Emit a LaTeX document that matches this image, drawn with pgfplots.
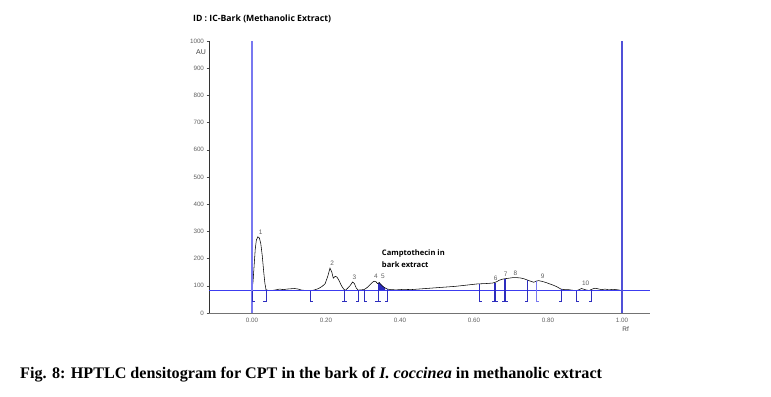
\documentclass[border=0pt]{standalone}
\usepackage{pgfplots}
\pgfplotsset{compat=1.18}
\usepackage{fontspec}
\setmainfont{Liberation Sans}
\newfontfamily\serifb{Liberation Serif}
\newfontfamily\opensans{Open Sans}
\definecolor{guide}{RGB}{60,60,240}
\definecolor{guideleft}{RGB}{120,120,240}
\definecolor{guidedark}{RGB}{80,80,215}
\definecolor{mk}{RGB}{45,45,190}
\definecolor{tk}{RGB}{95,95,95}
\begin{document}
\begin{tikzpicture}
\path[use as bounding box] (0bp,0bp) rectangle (771bp,397bp);
\node[anchor=west,inner sep=0pt,font=\opensans\bfseries\fontsize{8.7}{10}\selectfont] at (193bp,378bp) {ID : IC-Bark (Methanolic Extract)};
\node[anchor=west,inner sep=0pt,font=\serifb\bfseries\fontsize{16.2}{18}\selectfont] at (20bp,22bp) {Fig. 8: HPTLC densitogram for CPT in the bark of \textit{I. coccinea} in methanolic extract};
\begin{axis}[
  at={(209bp,84bp)}, anchor=south west,
  scale only axis, width=441bp, height=272bp,
  xmin=-0.116, xmax=1.076, ymin=0, ymax=1000,
  axis lines=left, axis line style={-},
  x axis line style={black!55, line width=0.7pt},
  y axis line style={black!80, line width=0.7pt},
  clip=false,
  xtick={0,0.2,0.4,0.6,0.8,1.0},
  xticklabels={0.00,0.20,0.40,0.60,0.80,1.00},
  ytick={0,100,...,1000},
  xtick style={draw=none},
  ytick style={black!70, line width=0.5pt},
  tick align=outside, major tick length=2.5bp,
  tick label style={font=\fontsize{6.3}{7}\selectfont, text=tk},
  /pgf/number format/assume math mode=true,
  /pgf/number format/1000 sep={},
  yticklabel style={xshift=1bp},
  xticklabel style={yshift=1bp},
]
% CPT peak fill
\addplot[fill=mk, draw=none] coordinates {(0.341,81) (0.341,108) (0.344,112) (0.348,106) (0.354,98) (0.360,92) (0.360,81)} -- cycle;
% densitogram
\addplot[black, line width=0.55pt] coordinates {
(0.000,82) (0.003,115) (0.006,175) (0.009,235) (0.012,268) (0.016,280) (0.020,276) (0.024,255) (0.028,210) (0.032,150) (0.035,110) (0.038,86)
(0.045,82) (0.055,83) (0.065,85) (0.075,88) (0.085,86) (0.095,88) (0.105,89) (0.115,90) (0.125,88) (0.135,84) (0.145,83) (0.155,82) (0.160,82)
(0.170,85) (0.180,90) (0.190,98) (0.198,108) (0.205,135) (0.211,165) (0.216,150) (0.220,128) (0.225,135) (0.230,132) (0.236,118) (0.242,100) (0.248,88) (0.252,83)
(0.258,90) (0.265,100) (0.272,114) (0.277,108) (0.282,92) (0.287,84) (0.295,85) (0.303,86)
(0.310,92) (0.318,102) (0.325,112) (0.330,117) (0.335,115) (0.340,108) (0.344,112) (0.348,106) (0.354,98) (0.360,92) (0.366,88)
(0.375,86) (0.390,85) (0.410,87) (0.430,86) (0.450,88) (0.470,90) (0.490,92) (0.510,94) (0.530,96) (0.550,98) (0.570,101) (0.590,104) (0.610,107)
(0.630,108) (0.650,110) (0.660,114) (0.668,120) (0.676,124) (0.684,126) (0.695,128) (0.705,130) (0.715,130) (0.725,129) (0.735,126) (0.745,121)
(0.755,116) (0.762,113) (0.768,117) (0.775,119) (0.785,116) (0.795,112) (0.805,107) (0.815,102) (0.825,96) (0.835,88) (0.845,86) (0.855,86)
(0.865,84) (0.877,82) (0.885,86) (0.891,90) (0.898,87) (0.905,84) (0.912,83) (0.920,88) (0.927,91) (0.935,89) (0.945,86) (0.955,88)
(0.965,85) (0.975,87) (0.985,86) (0.995,84) (1.000,82)};
% blue guide lines
\addplot[draw=guide, line width=1bp] coordinates {(-0.116,81) (1.076,81)};
\addplot[draw=guideleft, line width=1.2bp] coordinates {(0,0) (0,1000)};
\addplot[draw=guidedark, line width=1.4bp] coordinates {(1,0) (1,1000)};
% peak boundary markers
\addplot[mk, line width=0.6pt] coordinates {(0.001,82) (0.001,42) (0.008,42)};
\addplot[mk, line width=0.6pt] coordinates {(0.038,86) (0.038,42) (0.031,42)};
\addplot[mk, line width=0.6pt] coordinates {(0.159,82) (0.159,42) (0.166,42)};
\addplot[mk, line width=1.1pt] coordinates {(0.251,83) (0.251,42)};
\addplot[mk, line width=0.6pt] coordinates {(0.244,42) (0.258,42)};
\addplot[mk, line width=0.6pt] coordinates {(0.287,84) (0.287,42) (0.280,42)};
\addplot[mk, line width=0.6pt] coordinates {(0.303,86) (0.303,42) (0.310,42)};
\addplot[mk, line width=1.1pt] coordinates {(0.341,108) (0.341,42)};
\addplot[mk, line width=0.6pt] coordinates {(0.334,42) (0.348,42)};
\addplot[mk, line width=0.6pt] coordinates {(0.366,88) (0.366,42) (0.359,42)};
\addplot[mk, line width=0.6pt] coordinates {(0.614,107) (0.614,42) (0.621,42)};
\addplot[mk, line width=1.1pt] coordinates {(0.657,112) (0.657,42)};
\addplot[mk, line width=0.6pt] coordinates {(0.650,42) (0.664,42)};
\addplot[mk, line width=1.1pt] coordinates {(0.684,126) (0.684,42)};
\addplot[mk, line width=0.6pt] coordinates {(0.677,42) (0.691,42)};
\addplot[mk, line width=0.6pt] coordinates {(0.744,121) (0.744,42) (0.737,42)};
\addplot[guideleft, line width=0.6pt] coordinates {(0.768,117) (0.768,42) (0.775,42)};
\addplot[mk, line width=0.6pt] coordinates {(0.837,88) (0.837,42) (0.830,42)};
\addplot[mk, line width=0.6pt] coordinates {(0.877,82) (0.877,42) (0.884,42)};
\addplot[mk, line width=0.6pt] coordinates {(0.917,85) (0.917,42) (0.910,42)};
% peak numbers
\begin{scope}[every node/.style={font=\fontsize{6.5}{7}\selectfont, text=tk, inner sep=0pt}]
\node at (axis cs:0.024,295) {1};
\node at (axis cs:0.217,182) {2};
\node at (axis cs:0.277,131) {3};
\node at (axis cs:0.335,134) {4};
\node at (axis cs:0.354,134) {5};
\node at (axis cs:0.659,127) {6};
\node at (axis cs:0.686,143) {7};
\node at (axis cs:0.712,146) {8};
\node at (axis cs:0.786,136) {9};
\node at (axis cs:0.902,109) {10};
\end{scope}
\node[anchor=north west, align=left, inner sep=0pt, font=\opensans\bfseries\fontsize{7.6}{12}\selectfont] at (axis cs:0.351,233) {Camptothecin in\\bark extract};
\node[anchor=east, inner sep=0pt, font=\fontsize{7}{8}\selectfont, text=black!75] at (axis cs:-0.116,958) [xshift=-3bp] {AU};
\node[anchor=north, inner sep=0pt, font=\fontsize{6.5}{7}\selectfont, text=black!75] at (axis cs:1.010,0) [yshift=-14bp] {Rf};
\end{axis}
\end{tikzpicture}
\end{document}
